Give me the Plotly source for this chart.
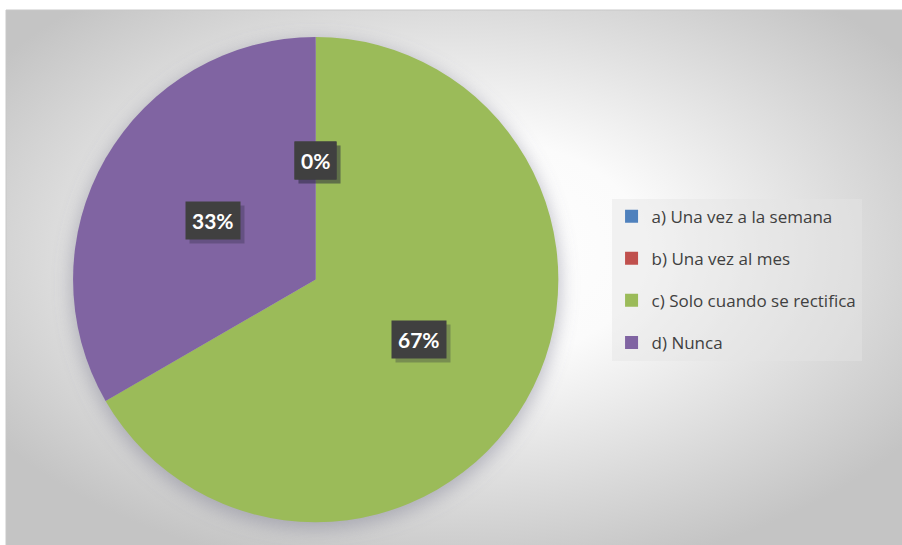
import base64
import math
import plotly.graph_objects as go

# ---- data ----
categories = ["a) Una vez a la semana", "b) Una vez al mes", "c) Solo cuando se rectifica", "d) Nunca"]
values = [0, 0, 2, 1]
colors = ["#4f81bd", "#c0504d", "#9bbb59", "#8064a2"]

W, H = 902, 545
# chart frame (pixels)
fx0, fy0 = 6, 10
# pie domain
dom_x = [0.081, 0.619]
dom_y = [0.041, 0.933]

svg = f"""<svg xmlns='http://www.w3.org/2000/svg' width='{W - fx0}' height='{H - fy0}' viewBox='0 0 {W - fx0} {H - fy0}'>
<defs>
<radialGradient id='g' cx='0.5' cy='0.45' r='0.62'>
<stop offset='0' stop-color='#ffffff'/>
<stop offset='0.35' stop-color='#fbfbfb'/>
<stop offset='1' stop-color='#c4c4c4'/>
</radialGradient>
<filter id='b' x='-20%' y='-20%' width='140%' height='140%'><feGaussianBlur stdDeviation='9'/></filter>
</defs>
<rect width='100%' height='100%' fill='url(#g)'/>
<circle cx='{(dom_x[0] + dom_x[1]) / 2 * W - fx0}' cy='{(1 - (dom_y[0] + dom_y[1]) / 2) * H - fy0 + 5}' r='{(dom_x[1] - dom_x[0]) * W / 2 + 2}' fill='rgba(120,120,140,0.45)' filter='url(#b)'/>
</svg>"""
bg_src = "data:image/svg+xml;base64," + base64.b64encode(svg.encode()).decode()

fig = go.Figure()
fig.add_trace(go.Pie(
    labels=categories, values=values, sort=False, direction="clockwise",
    marker=dict(colors=colors, line=dict(width=0)),
    textinfo="none", hoverinfo="label+percent", showlegend=False,
    domain=dict(x=dom_x, y=dom_y),
))

# legend entries
for i, (c, col) in enumerate(zip(categories, colors)):
    fig.add_trace(go.Scatter(
        x=[None], y=[None], mode="markers", name=c, legendgroup=f"g{i}",
        marker=dict(symbol="square", size=13, color=col), showlegend=True,
    ))

# percentage labels
total = sum(values)
cx = (dom_x[0] + dom_x[1]) / 2
cy = (dom_y[0] + dom_y[1]) / 2
R = (dom_x[1] - dom_x[0]) * W / 2
cum = 0
for v in values:
    mid = (cum + v / 2) / total * 2 * math.pi
    cum += v
    r = 0.49 * R
    px = cx + r * math.sin(mid) / W
    py = cy + r * math.cos(mid) / H
    txt = f"{round(v / total * 100)}%"
    common = dict(x=px, y=py, xref="paper", yref="paper", showarrow=False,
                  xanchor="center", yanchor="middle", borderpad=6)
    fig.add_annotation(text=f"<b>{txt}</b>", xshift=4, yshift=-4,
                       font=dict(family="Lato", size=21, color="rgba(0,0,0,0)"),
                       bgcolor="rgba(40,40,60,0.3)", **common)
    fig.add_annotation(text=f"<b>{txt}</b>",
                       font=dict(family="Lato", size=21, color="white"),
                       bgcolor="#404040", **common)

fig.add_layout_image(dict(source=bg_src, xref="paper", yref="paper", x=fx0 / W, y=1 - fy0 / H,
                          sizex=1 - fx0 / W, sizey=1 - fy0 / H, sizing="stretch",
                          xanchor="left", yanchor="top", layer="below"))
fig.add_shape(type="rect", xref="paper", yref="paper", x0=fx0 / W, x1=1.01, y0=-0.01, y1=1 - fy0 / H,
              line=dict(color="#c8c8c8", width=1), layer="below")

fig.update_layout(
    width=W, height=H, margin=dict(l=0, r=0, t=0, b=0),
    paper_bgcolor="white", plot_bgcolor="rgba(0,0,0,0)",
    xaxis=dict(visible=False), yaxis=dict(visible=False),
    legend=dict(x=0.678, y=0.487, xanchor="left", yanchor="middle",
                font=dict(family="Open Sans", size=17, color="#404040"),
                bgcolor="rgba(228,228,228,0.45)", traceorder="grouped", tracegroupgap=17,
                itemclick=False),
)

fig.write_html("out.html", config={"displayModeBar": False},
               post_script="document.body.style.margin='0';")
